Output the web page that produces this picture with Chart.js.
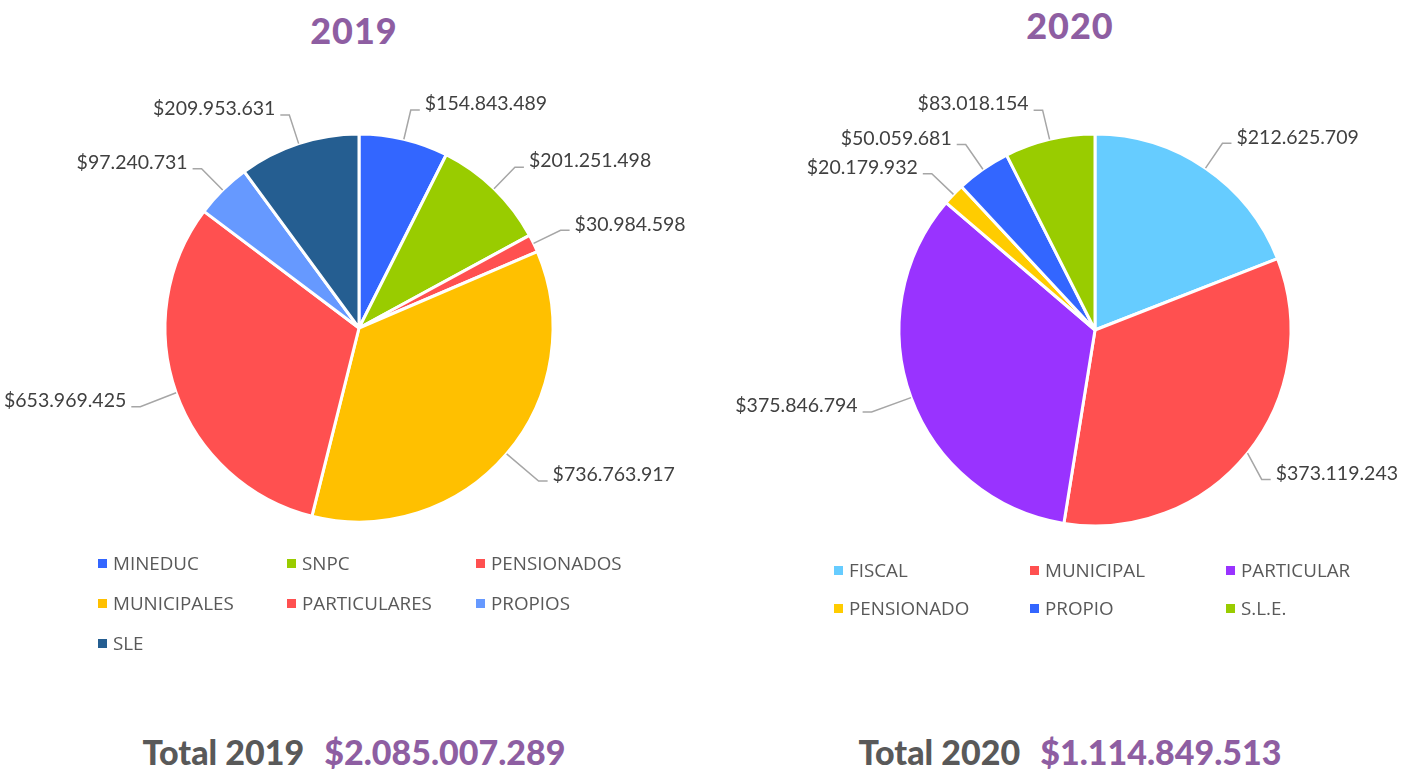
<!DOCTYPE html>
<html>
<head>
<meta charset="utf-8">
<script src="https://cdn.jsdelivr.net/npm/chart.js@4.4.1/dist/chart.umd.min.js"></script>
<style>
  html, body { margin: 0; padding: 0; background: #ffffff; }
  body { width: 1402px; height: 770px; position: relative; overflow: hidden; font-family: "Open Sans", sans-serif; }
  .title { position: absolute; font-family: Lato, sans-serif; font-weight: 900; font-size: 36px; color: #8E5EA2; letter-spacing: 1px; transform: translate(-50%, -50%); white-space: nowrap; }
  .total { position: absolute; font-family: Lato, sans-serif; font-weight: 900; font-size: 34px; color: #595959; transform: translate(-50%, -50%); white-space: nowrap; }
  .total span { color: #8E5EA2; margin-left: 20px; }
  .legend { position: absolute; display: grid; }
  .legend .item { display: flex; align-items: center; font-size: 18.8px; color: #595959; white-space: nowrap; }
  .legend .sw { width: 9px; height: 9px; margin-right: 6px; flex: none; }
  canvas { position: absolute; top: 0; }
</style>
</head>
<body>
<div class="title" id="t1" style="left:354px; top:30px;"></div>
<div class="title" id="t2" style="left:1070px; top:25px;"></div>
<div style="position:absolute; left:0; top:0; width:701px; height:660px;"><canvas id="c1"></canvas></div>
<div style="position:absolute; left:701px; top:0; width:701px; height:660px;"><canvas id="c2"></canvas></div>
<div class="legend" id="l1" style="left:98px; top:543px; grid-template-columns: 189px 189px 189px; grid-auto-rows: 40px;"></div>
<div class="legend" id="l2" style="left:834px; top:551px; grid-template-columns: 196px 196px 196px; grid-auto-rows: 38px;"></div>
<div class="total" id="tot1" style="left:354px; top:751px;"></div>
<div class="total" id="tot2" style="left:1070px; top:751px;"></div>
<script>
// ---- data ----
const years = ["2019", "2020"];
const categories2019 = ["MINEDUC", "SNPC", "PENSIONADOS", "MUNICIPALES", "PARTICULARES", "PROPIOS", "SLE"];
const values2019 = [154843489, 201251498, 30984598, 736763917, 653969425, 97240731, 209953631];
const colors2019 = ["#3366FF", "#99CC00", "#FF5050", "#FFC000", "#FF5050", "#6699FF", "#255E91"];
const total2019 = 2085007289;

const categories2020 = ["FISCAL", "MUNICIPAL", "PARTICULAR", "PENSIONADO", "PROPIO", "S.L.E."];
const values2020 = [212625709, 373119243, 375846794, 20179932, 50059681, 83018154];
const colors2020 = ["#66CCFF", "#FF5050", "#9933FF", "#FFCC00", "#3366FF", "#99CC00"];
const total2020 = 1114849513;

function fmt(v) {
  return "$" + String(v).replace(/\B(?=(\d{3})+(?!\d))/g, ".");
}

const leaderLabels = {
  id: "leaderLabels",
  afterDatasetsDraw(chart) {
    const ctx = chart.ctx;
    const meta = chart.getDatasetMeta(0);
    const data = chart.data.datasets[0].data;
    const W = chart.width;
    ctx.save();
    ctx.font = "19.5px Lato, 'Open Sans', sans-serif";
    ctx.fillStyle = "#404040";
    ctx.strokeStyle = "#A6A6A6";
    ctx.lineWidth = 1.5;
    ctx.textBaseline = "middle";
    meta.data.forEach((arc, i) => {
      const p = arc.getProps(["x", "y", "startAngle", "endAngle", "outerRadius"], true);
      const mid = (p.startAngle + p.endAngle) / 2;
      const dx = Math.cos(mid), dy = Math.sin(mid);
      const ex = p.x + p.outerRadius * dx, ey = p.y + p.outerRadius * dy;
      const lower = dy > 0.3;
      const R = p.outerRadius + (lower ? 42 : 30);
      let bx = p.x + R * dx;
      const by = p.y + R * dy;
      const right = dx >= 0;
      const txt = fmt(data[i]);
      const tw = ctx.measureText(txt).width;
      // keep the label inside the canvas by pulling the elbow in horizontally
      if (right) {
        const over = bx + 9 + 5 + tw - (W - 4);
        if (over > 0) bx -= over;
      } else {
        const over = 4 - (bx - 9 - 5 - tw);
        if (over > 0) bx += over;
      }
      const hx = bx + (right ? 9 : -9);
      ctx.beginPath();
      ctx.moveTo(ex, ey);
      ctx.lineTo(bx, by);
      ctx.lineTo(hx, by);
      ctx.stroke();
      ctx.textAlign = right ? "left" : "right";
      ctx.fillText(txt, hx + (right ? 5 : -5), by - 6);
    });
    ctx.restore();
  }
};

function makePie(id, labels, values, colors, radius, pad) {
  return new Chart(document.getElementById(id), {
    type: "pie",
    data: {
      labels: labels,
      datasets: [{
        data: values,
        backgroundColor: colors,
        borderColor: "#ffffff",
        borderWidth: 3,
        hoverOffset: 0
      }]
    },
    options: {
      responsive: true,
      maintainAspectRatio: false,
      animation: false,
      events: [],
      radius: radius,
      layout: { padding: pad },
      plugins: {
        legend: { display: false },
        tooltip: { enabled: false },
        title: { display: false }
      }
    },
    plugins: [leaderLabels]
  });
}

makePie("c1", categories2019, values2019, colors2019, 194, { left: 17, right: 0, top: 0, bottom: 4 });
makePie("c2", categories2020, values2020, colors2020, 196, { left: 87, right: 0, top: 0, bottom: 0 });

function buildLegend(id, labels, colors) {
  const el = document.getElementById(id);
  labels.forEach((lab, i) => {
    const item = document.createElement("div");
    item.className = "item";
    const sw = document.createElement("span");
    sw.className = "sw";
    sw.style.background = colors[i];
    item.appendChild(sw);
    item.appendChild(document.createTextNode(lab));
    el.appendChild(item);
  });
}
buildLegend("l1", categories2019, colors2019);
buildLegend("l2", categories2020, colors2020);

document.getElementById("t1").textContent = years[0];
document.getElementById("t2").textContent = years[1];
document.getElementById("tot1").innerHTML = "Total " + years[0] + "<span>" + fmt(total2019) + "</span>";
document.getElementById("tot2").innerHTML = "Total " + years[1] + "<span>" + fmt(total2020) + "</span>";
</script>
</body>
</html>
